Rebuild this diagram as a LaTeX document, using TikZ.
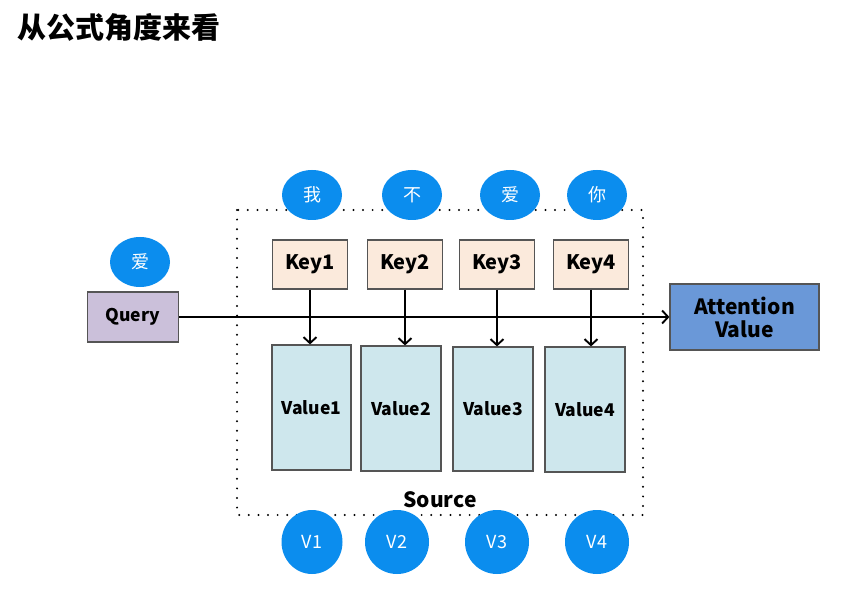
\documentclass[tikz,border=0pt]{standalone}
\usepackage{fontspec}
\setmainfont{Noto Sans CJK SC}
\usetikzlibrary{arrows.meta,shapes.geometric}
\definecolor{cblue}{HTML}{0B8DEE}
\definecolor{qfill}{HTML}{CBC0DA}
\definecolor{kfill}{HTML}{FBEADC}
\definecolor{vfill}{HTML}{CEE7ED}
\definecolor{afill}{HTML}{6A98D8}
\definecolor{bord}{HTML}{555555}
\tikzset{
  boxstyle/.style={draw=bord, line width=1.2pt, inner sep=0pt, font=\bfseries\fontsize{17.5}{20}\selectfont},
  bubble/.style={ellipse, fill=cblue, text=white, inner sep=0pt, font=\fontsize{18}{20}\selectfont},
  arr/.style={line width=1.9pt, -{Straight Barb[length=6pt,width=13pt,line width=1.9pt]}},
}
\begin{document}
\begin{tikzpicture}[x=1pt,y=-1pt]
\useasboundingbox[fill=white] (0,0) rectangle (842,593);
\node[anchor=west, font=\bfseries\fontsize{29}{31}\selectfont] (title) at (14,27) {从公式角度来看};
% dotted source frame
\draw[line width=2.2pt, line cap=round, dash pattern=on 0pt off 9.6pt] (237,210) rectangle (643,515);
\node[font=\bfseries\fontsize{21}{23}\selectfont] (src) at (440,500) {Source};
% query
\node[boxstyle, fill=qfill, minimum width=91pt, minimum height=50pt] (q) at (133,317) {Query};
\node[bubble, minimum width=60pt, minimum height=50pt] (qa) at (140,262) {爱};
% attention
\node[boxstyle, fill=afill, minimum width=149pt, minimum height=66pt, align=center, font=\bfseries\fontsize{21}{23}\selectfont] (att) at (744.5,317) {Attention\\Value};
% keys
\foreach \i/\x in {1/310,2/405,3/497,4/591}{
  \node[boxstyle, fill=kfill, minimum width=75pt, minimum height=49pt, font=\bfseries\fontsize{20}{22}\selectfont] (k\i) at (\x,264.5) {Key\i};
}
% values
\node[boxstyle, fill=vfill, minimum width=79pt, minimum height=125pt] (v1) at (311.5,407.5) {Value1};
\node[boxstyle, fill=vfill, minimum width=80pt, minimum height=125pt] (v2) at (401,408.5) {Value2};
\node[boxstyle, fill=vfill, minimum width=80pt, minimum height=124pt] (v3) at (493,409) {Value3};
\node[boxstyle, fill=vfill, minimum width=80pt, minimum height=125pt] (v4) at (585,409.5) {Value4};
% top bubbles
\node[bubble, minimum width=60pt, minimum height=50pt] (w1) at (312,195) {我};
\node[bubble, minimum width=60pt, minimum height=50pt] (w2) at (412,195) {不};
\node[bubble, minimum width=60pt, minimum height=50pt] (w3) at (510,195) {爱};
\node[bubble, minimum width=60pt, minimum height=50pt] (w4) at (597,195) {你};
% bottom bubbles
\node[bubble, minimum width=61pt, minimum height=64pt] (b1) at (312,542) {V1};
\node[bubble, minimum width=64pt, minimum height=64pt] (b2) at (397,542) {V2};
\node[bubble, minimum width=64pt, minimum height=64pt] (b3) at (497,542) {V3};
\node[bubble, minimum width=64pt, minimum height=64pt] (b4) at (597,542) {V4};
% arrows
\draw[arr] (q.east) -- (att.west);
\foreach \i in {1,2,3,4}{
  \draw[arr] (k\i.south) -- (k\i.south |- v\i.north);
}
\end{tikzpicture}
\end{document}
